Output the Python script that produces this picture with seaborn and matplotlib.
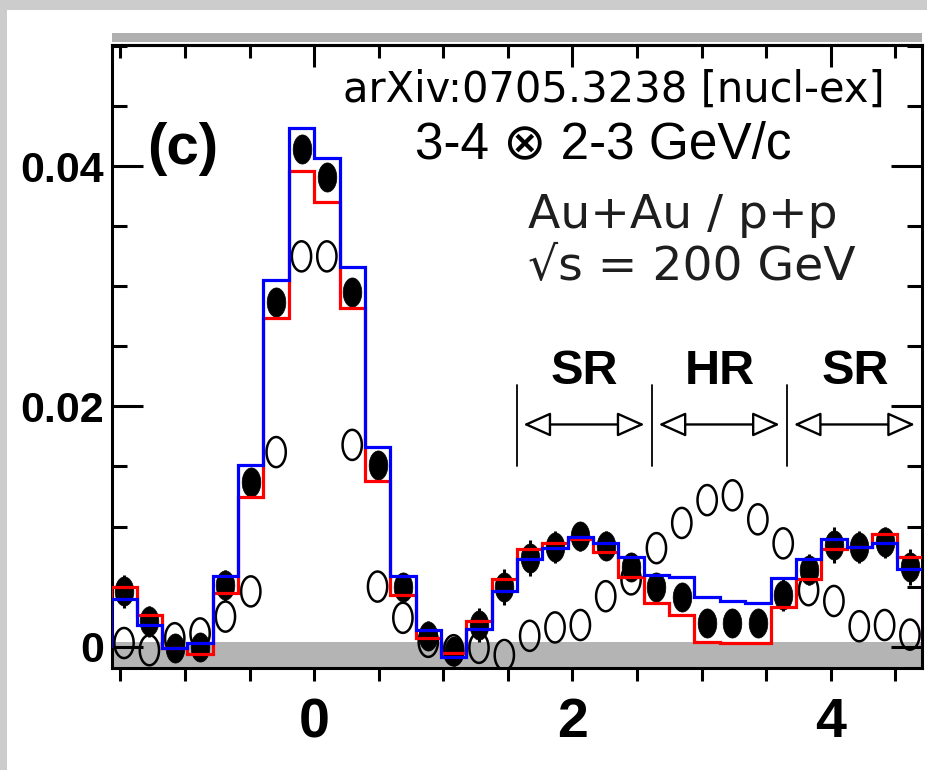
import numpy as np
import matplotlib
matplotlib.use("Agg")
import matplotlib.pyplot as plt
import matplotlib.path as mpath
from matplotlib.patches import Rectangle
from matplotlib.ticker import MultipleLocator
import seaborn as sns

# 32 bins de pi/16 entre -pi/2 y 3pi/2
n_bins = 32
dphi_lo, dphi_hi = -np.pi / 2, 3 * np.pi / 2

# Au+Au (puntos llenos)
auau = [0.0046, 0.0021, -0.0001, 0.0000, 0.0051, 0.0137, 0.0287, 0.0414,
        0.0391, 0.0295, 0.0151, 0.0050, 0.0009, -0.0004, 0.0018, 0.0050,
        0.0074, 0.0083, 0.0092, 0.0084, 0.0066, 0.0050, 0.0041, 0.0020,
        0.0020, 0.0020, 0.0043, 0.0064, 0.0085, 0.0083, 0.0087, 0.0066]
auau_err = [0.0014, 0.0013, 0.0010, 0.0010, 0.0013, 0.0010, 0.0008, 0.0008,
            0.0008, 0.0008, 0.0010, 0.0011, 0.0012, 0.0012, 0.0014, 0.0015,
            0.0015, 0.0013, 0.0012, 0.0012, 0.0010, 0.0010, 0.0010, 0.0010,
            0.0010, 0.0010, 0.0013, 0.0013, 0.0015, 0.0013, 0.0013, 0.0015]
# p+p (circulos abiertos)
pp = [0.0003, -0.0003, 0.0007, 0.0011, 0.0025, 0.0046, 0.0162, 0.0325,
      0.0325, 0.0168, 0.0050, 0.0024, 0.0004, -0.0003, -0.0001, -0.0007,
      0.0009, 0.0016, 0.0018, 0.0042, 0.0056, 0.0082, 0.0103, 0.0122,
      0.0126, 0.0106, 0.0086, 0.0047, 0.0038, 0.0017, 0.0018, 0.0010]
# histogramas
hist_blue = [0.0040, 0.0018, -0.0001, 0.0003, 0.0059, 0.0151, 0.0305, 0.0432,
             0.0407, 0.0316, 0.0166, 0.0059, 0.0014, -0.0009, 0.0015, 0.0046,
             0.0073, 0.0082, 0.0091, 0.0086, 0.0075, 0.0060, 0.0058, 0.0041,
             0.0038, 0.0036, 0.0057, 0.0073, 0.0090, 0.0083, 0.0086, 0.0065]
hist_red = [0.0050, 0.0026, -0.0001, -0.0006, 0.0045, 0.0125, 0.0274, 0.0396,
            0.0370, 0.0282, 0.0138, 0.0043, 0.0007, -0.0005, 0.0021, 0.0056,
            0.0081, 0.0086, 0.0090, 0.0079, 0.0058, 0.0036, 0.0026, 0.0004,
            0.0003, 0.0003, 0.0033, 0.0056, 0.0081, 0.0083, 0.0094, 0.0075]

x_ticks = [0, 2, 4]
x_tick_labels = ["0", "2", "4"]
y_ticks = [0, 0.02, 0.04]
y_tick_labels = ["0", "0.02", "0.04"]

region_bounds = [np.pi / 2, 5 * np.pi / 6, 7 * np.pi / 6, 3 * np.pi / 2]
region_labels = ["SR", "HR", "SR"]

edges = np.linspace(dphi_lo, dphi_hi, n_bins + 1)
centers = 0.5 * (edges[:-1] + edges[1:])

sns.set_style("ticks")
plt.rcParams["font.family"] = ["DejaVu Sans"]
plt.rcParams["text.color"] = "black"
plt.rcParams["xtick.color"] = "black"
plt.rcParams["ytick.color"] = "black"
helv = ["Liberation Sans", "DejaVu Sans"]

fig = plt.figure(figsize=(9.27, 7.70), dpi=100, facecolor="white")
ax = fig.add_axes([112 / 927, 102 / 770, 810 / 927, 623 / 770])

# marcador eliptico (escaneo estirado)
t = np.linspace(0, 2 * np.pi, 60)
verts = np.column_stack([0.64 * np.cos(t), np.sin(t)])
ell = mpath.Path(verts, closed=True)

ax.axhspan(-0.01, 0.0004, color="#b4b4b4", lw=0, zorder=0.5)

sns.scatterplot(x=centers, y=pp, marker=ell, s=470, facecolor="none",
                edgecolor="black", linewidth=1.8, ax=ax, zorder=2)
ax.errorbar(centers, auau, yerr=auau_err, fmt="none", ecolor="black",
            elinewidth=2.2, capsize=0, zorder=3)
sns.scatterplot(x=centers, y=auau, marker=ell, s=440, color="black",
                edgecolor="black", linewidth=0.5, ax=ax, zorder=3)

ax.stairs(hist_red, edges, color="#ff0000", lw=2.3, zorder=4)
ax.stairs(hist_blue, edges, color="#0000ff", lw=2.3, zorder=5)

ax.set_xlim(dphi_lo + 0.005, dphi_hi - 0.005)
ax.set_ylim(-0.00178, 0.0501)
ax.set_xlabel("")
ax.set_ylabel("")

# ejes
for sp in ax.spines.values():
    sp.set_linewidth(2.2)
    sp.set_color("black")
ax.set_xticks(x_ticks)
ax.set_xticklabels(x_tick_labels)
ax.set_yticks(y_ticks)
ax.set_yticklabels(y_tick_labels)
ax.xaxis.set_minor_locator(MultipleLocator(0.5))
ax.yaxis.set_minor_locator(MultipleLocator(0.005))
ax.tick_params(axis="y", which="both", direction="in", left=True, right=True,
               width=2.2, pad=6, labelcolor="black")
ax.tick_params(axis="y", which="major", length=22)
ax.tick_params(axis="y", which="minor", length=11)
ax.tick_params(axis="x", which="both", direction="out", top=False, width=2.2,
               length=9, pad=12, labelcolor="black")
for lab in ax.get_yticklabels():
    lab.set_fontfamily(helv)
    lab.set_fontweight("bold")
    lab.set_fontsize(31)
for lab in ax.get_xticklabels():
    lab.set_fontfamily(helv)
    lab.set_fontweight("bold")
    lab.set_fontsize(40)

top = ax.secondary_xaxis("top")
top.set_xticks(x_ticks)
top.set_xticklabels([])
top.xaxis.set_minor_locator(MultipleLocator(0.5))
top.tick_params(which="both", direction="in", width=2.2)
top.tick_params(which="major", length=16)
top.tick_params(which="minor", length=9)
top.spines["top"].set_linewidth(2.2)

# barra gris sobre el marco
ax.add_patch(Rectangle((0, 1 + 3 / 623), 1, 9 / 623, transform=ax.transAxes,
                       color="#b0b0b0", lw=0, clip_on=False, zorder=6))

# regiones SR / HR / SR
for b in region_bounds[:3]:
    ax.plot([b, b], [0.0150, 0.0218], color="black", lw=1.3, zorder=6)
for i, lab in enumerate(region_labels):
    a, b = region_bounds[i], region_bounds[i + 1]
    ax.annotate("", xy=(b - 0.06, 0.0185), xytext=(a + 0.05, 0.0185),
                arrowprops=dict(arrowstyle="<|-|>,head_length=0.85,head_width=0.38",
                                fc="white", ec="black", lw=1.7,
                                mutation_scale=20, shrinkA=0, shrinkB=0),
                zorder=6)
    ax.text(0.5 * (a + b), 0.0229, lab, ha="center", va="center",
            family=helv, fontweight="bold", fontsize=35, color="black",
            zorder=6)

ax.text(-1.02, 0.0414, "(c)", ha="center", va="center", family=helv,
        fontweight="bold", fontsize=42, color="black", zorder=6)
ax.text(2.24, 0.0418, "3-4 \u2297 2-3 GeV/c", ha="center", va="center",
        family=helv, fontsize=37, color="black", zorder=6)

# textos superpuestos
fig.text(885 / 927, 1 - 90 / 770, "arXiv:0705.3238 [nucl-ex]", ha="right",
         va="center", fontsize=30, color="black")
fig.text(528 / 927, 1 - 215 / 770, "Au+Au / p+p", ha="left", va="center",
         fontsize=34, color="#1e1e1e")
fig.text(528 / 927, 1 - 268 / 770, "\u221as = 200 GeV", ha="left",
         va="center", fontsize=34, color="#1e1e1e")

# marco gris de la captura
fig.patches.append(Rectangle((0, 1 - 10 / 770), 1, 10 / 770,
                             transform=fig.transFigure, color="#cccccc", lw=0))
fig.patches.append(Rectangle((0, 0), 7 / 927, 1, transform=fig.transFigure,
                             color="#cccccc", lw=0))

fig.savefig("out.png", dpi=100, facecolor="white")
